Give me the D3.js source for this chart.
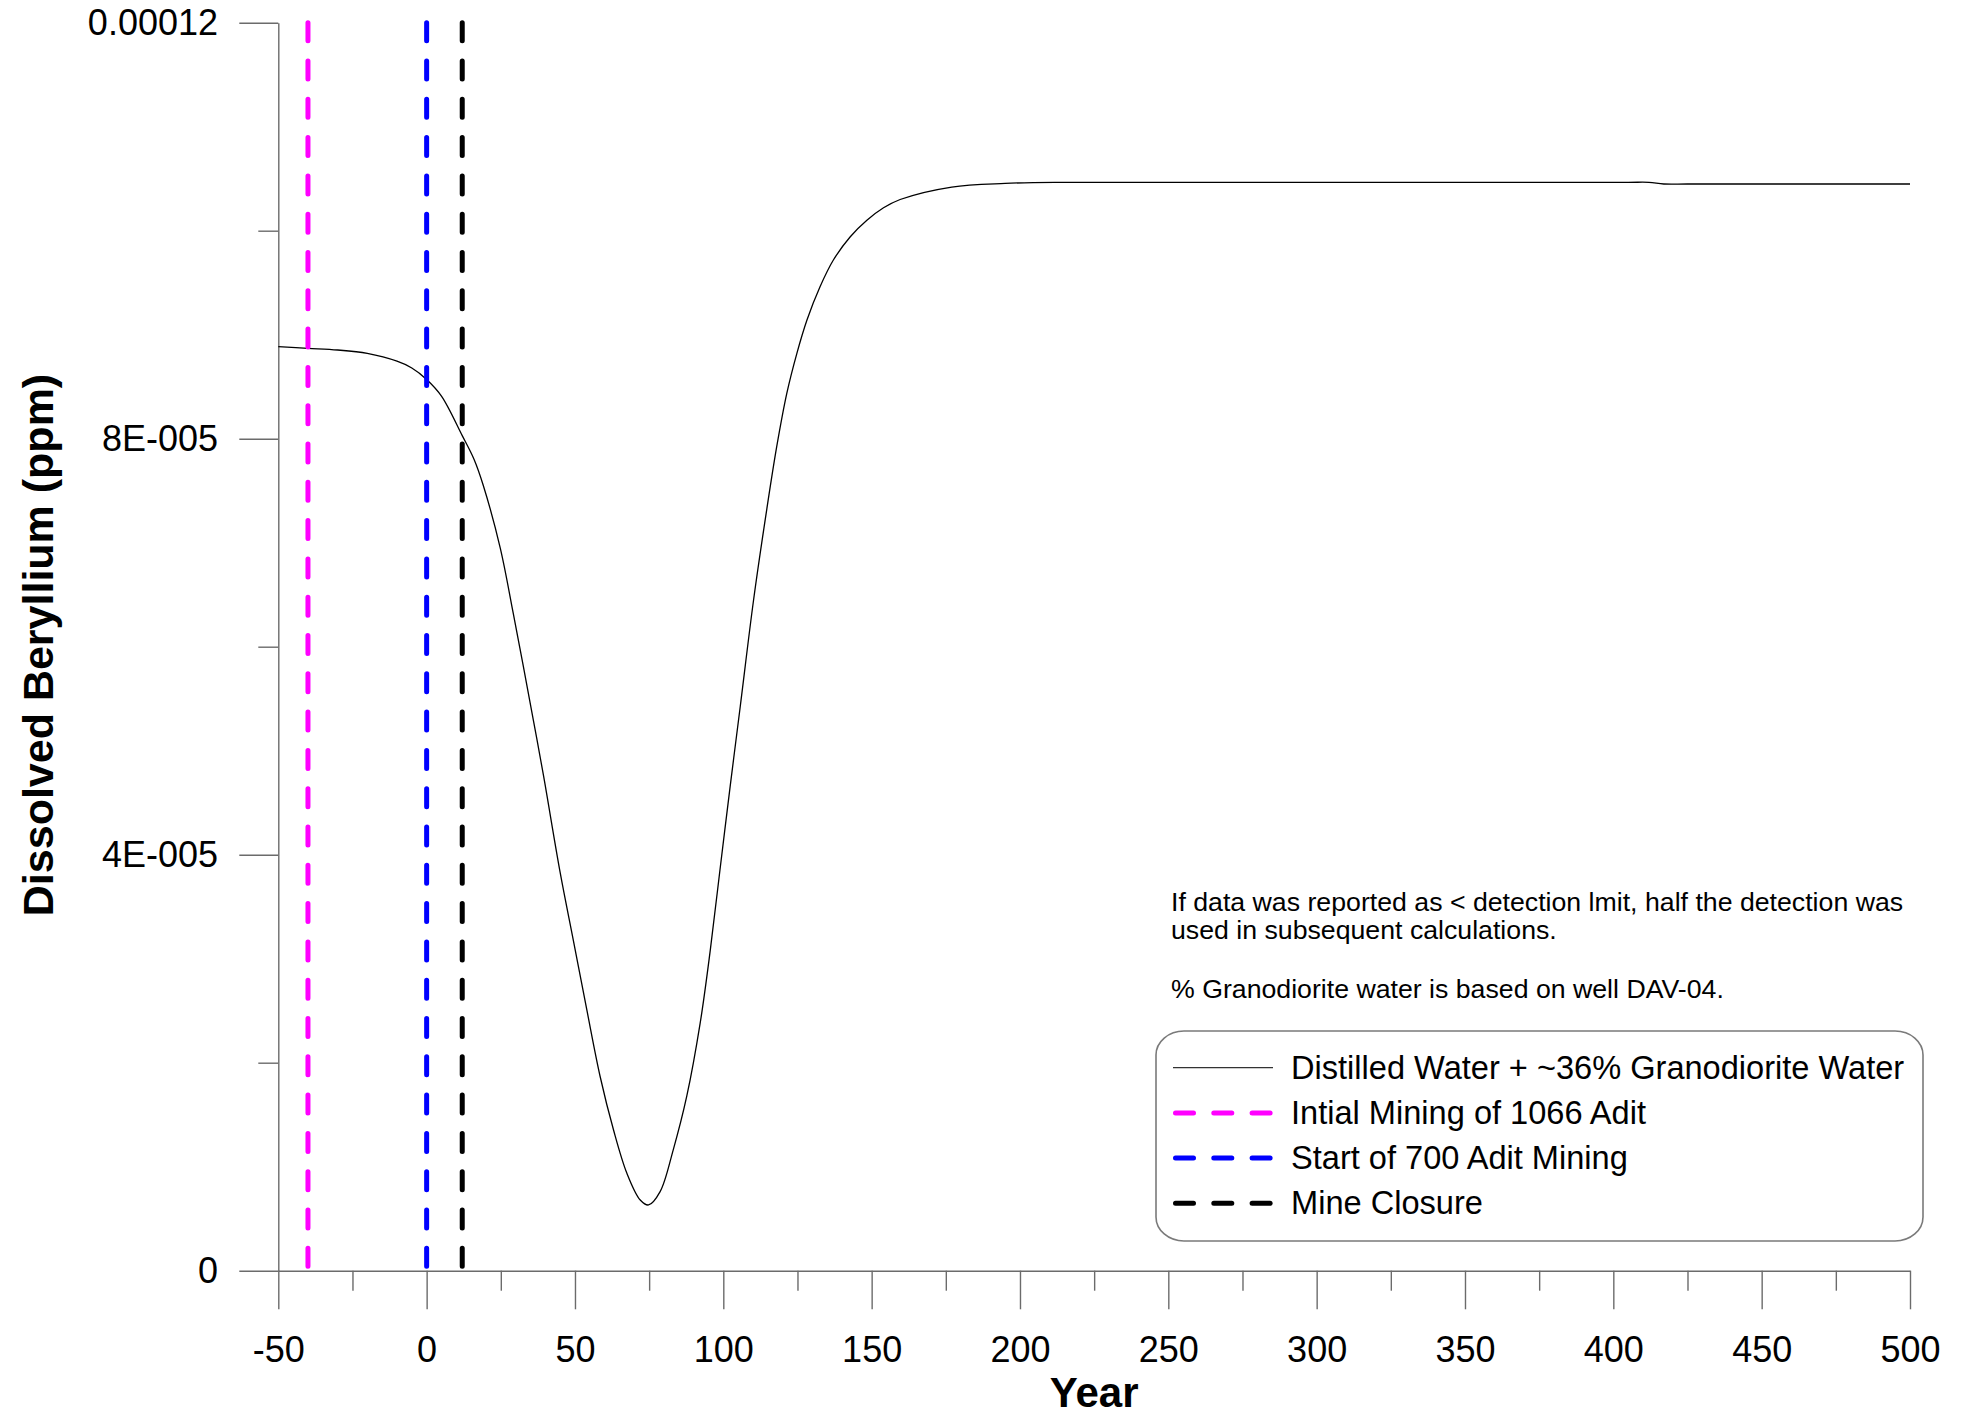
<!DOCTYPE html>
<html>
<head>
<meta charset="utf-8">
<script src="https://cdn.jsdelivr.net/npm/d3@7"></script>
<style>
  body { margin: 0; background: #fff; }
  svg { display: block; }
  text { font-family: "Liberation Sans", Arial, sans-serif; fill: #000; }
</style>
</head>
<body>
<svg id="chart" width="1965" height="1415"></svg>
<script>
// Modelled dissolved beryllium concentration over time
const years = [-50, -40, -30, -20, -10, -5, 0, 5, 12, 16, 19.1, 24.8, 29.2, 32.6, 36.0, 39.4,
  45.0, 49.5, 54.0, 58.5, 63.0, 67.5, 72.0, 74.8, 78.7, 83.1, 87.7, 92.2, 95.6, 98.9, 102.3,
  105.7, 110.2, 114.7, 118.0, 121.4, 124.8, 128.2, 132.6, 137.1, 142.8, 148.4, 154.0, 159.6,
  177, 195, 215, 250, 300, 350, 405, 412, 417, 425, 450, 500];
const beryllium = [8.885e-5, 8.869e-5, 8.853e-5, 8.820e-5, 8.745e-5, 8.680e-5, 8.570e-5, 8.410e-5,
  8.030e-5, 7.800e-5, 7.550e-5, 6.950e-5, 6.320e-5, 5.810e-5, 5.290e-5, 4.760e-5,
  3.830e-5, 3.170e-5, 2.507e-5, 1.865e-5, 1.353e-5, 0.937e-5, 0.680e-5, 0.632e-5, 0.760e-5,
  1.160e-5, 1.680e-5, 2.380e-5, 3.080e-5, 3.860e-5, 4.654e-5, 5.423e-5, 6.449e-5, 7.330e-5,
  7.923e-5, 8.436e-5, 8.821e-5, 9.141e-5, 9.461e-5, 9.718e-5, 9.942e-5, 10.100e-5, 10.220e-5,
  10.300e-5, 10.420e-5, 10.455e-5, 10.465e-5, 10.465e-5, 10.465e-5, 10.465e-5, 10.465e-5,
  10.465e-5, 10.449e-5, 10.449e-5, 10.449e-5, 10.449e-5];

const seriesName = "Distilled Water + ~36% Granodiorite Water";

// Event markers (vertical dashed lines)
const markerYears = [-40, 0, 12];
const markerNames = ["Intial Mining of 1066 Adit", "Start of 700 Adit Mining", "Mine Closure"];
const markerColors = ["#ff00ff", "#0000ff", "#000000"];

// Axis ticks
const xMajorTicks = [-50, 0, 50, 100, 150, 200, 250, 300, 350, 400, 450, 500];
const xMinorTicks = [-25, 25, 75, 125, 175, 225, 275, 325, 375, 425, 475];
const yMajorTicks = [0, 4e-5, 8e-5, 1.2e-4];
const yMajorLabels = ["0", "4E-005", "8E-005", "0.00012"];
const yMinorTicks = [2e-5, 6e-5, 1e-4];

const notes = [
  "If data was reported as < detection lmit, half the detection was",
  "used in subsequent calculations.",
  "",
  "% Granodiorite water is based on well DAV-04."
];

const svg = d3.select("#chart");
const x = d3.scaleLinear().domain([-50, 500]).range([278.3, 1910]);
const y = d3.scaleLinear().domain([0, 1.2e-4]).range([1270.7, 22.7]);
const axisColor = "#6b6b6b";

function styleAxis(g) {
  g.selectAll("path.domain").attr("stroke", axisColor).attr("stroke-width", 1.4);
  g.selectAll(".tick line").attr("stroke", axisColor).attr("stroke-width", 1.4);
  g.selectAll(".tick text").attr("fill", "#000")
    .style("font-family", '"Liberation Sans", Arial, sans-serif')
    .style("font-size", "36px");
}

// Minor ticks first, then major axes
svg.append("g").attr("transform", `translate(0,${y(0)})`)
  .call(d3.axisBottom(x).tickValues(xMinorTicks).tickSize(20).tickSizeOuter(0).tickFormat(""))
  .call(styleAxis).select("path.domain").remove();
svg.append("g").attr("transform", `translate(${x(-50)},0)`)
  .call(d3.axisLeft(y).tickValues(yMinorTicks).tickSize(20).tickSizeOuter(0).tickFormat(""))
  .call(styleAxis).select("path.domain").remove();

svg.append("g").attr("transform", `translate(0,${y(0)})`)
  .call(d3.axisBottom(x).tickValues(xMajorTicks).tickSize(38.6).tickSizeOuter(0).tickPadding(26.8)
    .tickFormat(d => String(d)))
  .call(styleAxis);
svg.append("g").attr("transform", `translate(${x(-50)},0)`)
  .call(d3.axisLeft(y).tickValues(yMajorTicks).tickSize(39).tickSizeOuter(0).tickPadding(21.3)
    .tickFormat((d, i) => yMajorLabels[i]))
  .call(styleAxis);

// Axis titles
svg.append("text")
  .attr("x", (x(-50) + x(500)) / 2).attr("y", 1406.7)
  .attr("text-anchor", "middle")
  .style("font-size", "42px").style("font-weight", "bold")
  .text("Year");
svg.append("text")
  .attr("transform", `translate(53,${645}) rotate(-90)`)
  .attr("text-anchor", "middle")
  .style("font-size", "43px").style("font-weight", "bold")
  .text("Dissolved Beryllium (ppm)");

// Concentration curve
const line = d3.line()
  .x((d, i) => x(years[i]))
  .y(d => y(d))
  .curve(d3.curveCatmullRom.alpha(0.5));
svg.append("path")
  .datum(beryllium)
  .attr("fill", "none")
  .attr("stroke", "#000")
  .attr("stroke-width", 1.3)
  .attr("d", line);

// Event markers
svg.append("g").selectAll("line")
  .data(markerYears)
  .join("line")
  .attr("x1", d => x(d)).attr("x2", d => x(d))
  .attr("y1", y(1.2e-4)).attr("y2", y(0))
  .attr("stroke", (d, i) => markerColors[i])
  .attr("stroke-width", 5)
  .attr("stroke-linecap", "round")
  .attr("stroke-dasharray", "18,20.3");

// Notes
const notesG = svg.append("g");
const noteBaselines = [911, 939, 970, 998];
notes.forEach((t, i) => {
  if (!t) return;
  notesG.append("text")
    .attr("x", 1171).attr("y", noteBaselines[i])
    .style("font-size", "26.7px")
    .text(t);
});

// Legend
const legend = svg.append("g");
legend.append("rect")
  .attr("x", 1156).attr("y", 1031)
  .attr("width", 767).attr("height", 210)
  .attr("rx", 28).attr("ry", 24)
  .attr("fill", "#fff")
  .attr("stroke", "#7a7a7a").attr("stroke-width", 1.6);

const legendItems = [
  { name: seriesName, color: "#333", width: 1.3, dash: null, cap: "butt" },
  ...markerNames.map((n, i) => ({ name: n, color: markerColors[i], width: 5, dash: "18,20.3", cap: "round" }))
];
const rowY0 = 1067.7, rowStep = 45.2;
legendItems.forEach((it, i) => {
  const cy = rowY0 + i * rowStep;
  legend.append("line")
    .attr("x1", it.dash ? 1175.5 : 1173).attr("x2", 1273)
    .attr("y1", cy).attr("y2", cy)
    .attr("stroke", it.color)
    .attr("stroke-width", it.width)
    .attr("stroke-linecap", it.cap)
    .attr("stroke-dasharray", it.dash);
  legend.append("text")
    .attr("x", 1291).attr("y", cy + 11)
    .style("font-size", "32.6px")
    .text(it.name);
});
</script>
</body>
</html>
